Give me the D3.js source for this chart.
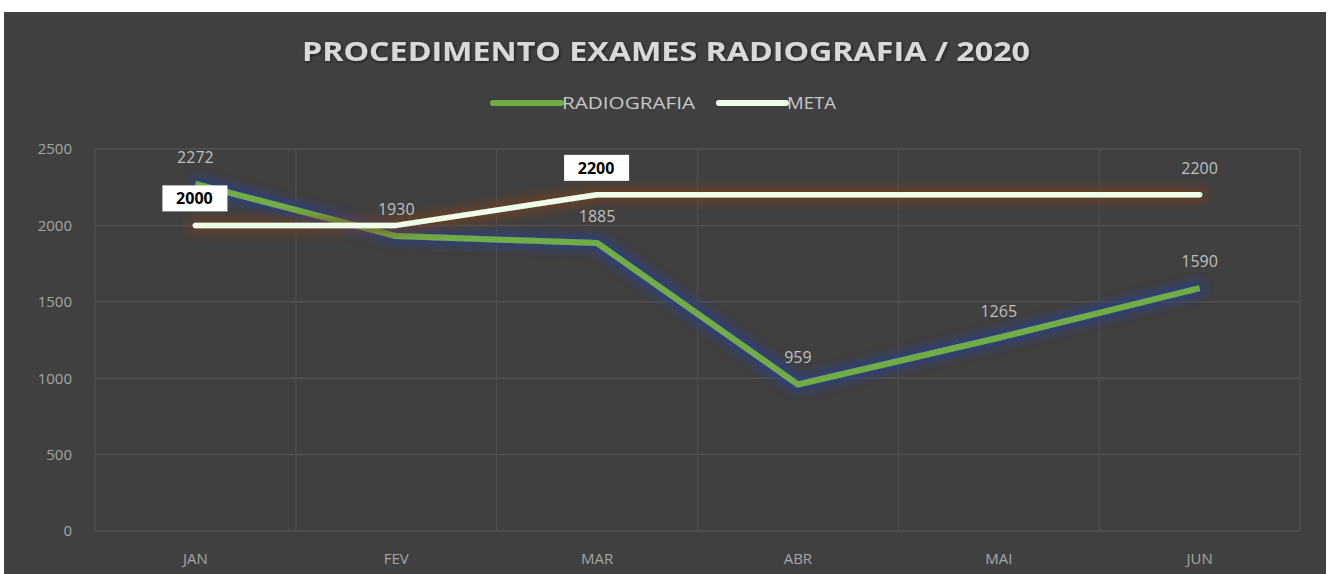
<!DOCTYPE html>
<html>
<head>
<meta charset="utf-8">
<script src="https://cdn.jsdelivr.net/npm/d3@7"></script>
<style>
  body { margin: 0; background: #fff; }
  svg { display: block; }
</style>
</head>
<body>
<svg id="chart"></svg>
<script>
var months = ["JAN", "FEV", "MAR", "ABR", "MAI", "JUN"];
var radiografia = [2272, 1930, 1885, 959, 1265, 1590];
var meta = [2000, 2000, 2200, 2200, 2200, 2200];
var yTicks = [0, 500, 1000, 1500, 2000, 2500];
// which meta points carry a label and whether it sits in a white box
var metaLabels = [
    { i: 0, boxed: true },
    { i: 2, boxed: true },
    { i: 5, boxed: false }
];

var totalWidth = 1331;
var totalHeight = 574;
var margin = { top: 149, right: 31, bottom: 43, left: 95 };
var width = totalWidth - margin.left - margin.right;
var height = totalHeight - margin.top - margin.bottom;

var svg = d3.select("#chart")
    .attr("width", totalWidth)
    .attr("height", totalHeight);

var defs = svg.append("defs");

function glow(id, color, blur, op) {
    var f = defs.append("filter").attr("id", id)
        .attr("x", "-20%").attr("y", "-80%").attr("width", "140%").attr("height", "260%");
    f.append("feMorphology").attr("in", "SourceAlpha").attr("operator", "dilate").attr("radius", 4).attr("result", "d");
    f.append("feGaussianBlur").attr("in", "d").attr("stdDeviation", blur).attr("result", "b");
    f.append("feFlood").attr("flood-color", color).attr("flood-opacity", op);
    f.append("feComposite").attr("in2", "b").attr("operator", "in").attr("result", "g");
    var m = f.append("feMerge");
    m.append("feMergeNode").attr("in", "g");
    m.append("feMergeNode").attr("in", "SourceGraphic");
}
glow("glowBlue", "#2b3f86", 5, 0.85);
glow("glowOrange", "#7a3e1c", 6, 0.7);

var shadow = defs.append("filter").attr("id", "textShadow");
shadow.append("feDropShadow").attr("dx", 1).attr("dy", 1).attr("stdDeviation", 1.5)
    .attr("flood-color", "#000").attr("flood-opacity", 0.6);

// panel
svg.append("rect")
    .attr("x", 4).attr("y", 12)
    .attr("width", 1322).attr("height", totalHeight - 12)
    .attr("fill", "#404040");

svg.append("text")
    .attr("x", 666).attr("y", 61)
    .attr("text-anchor", "middle")
    .attr("font-family", "Open Sans, sans-serif")
    .attr("font-weight", "bold")
    .attr("font-size", 27)
    .attr("fill", "#d9d9d9")
    .attr("textLength", 728)
    .attr("lengthAdjust", "spacingAndGlyphs")
    .attr("filter", "url(#textShadow)")
    .text("PROCEDIMENTO  EXAMES RADIOGRAFIA / 2020");

// legend
var legend = [
    { name: "RADIOGRAFIA", color: "#70ad47", x: 493, w: 68, tw: 133 },
    { name: "META", color: "#f0ffe8", x: 719, w: 67, tw: 49 }
];
legend.forEach(function (d) {
    svg.append("line")
        .attr("x1", d.x).attr("x2", d.x + d.w)
        .attr("y1", 103).attr("y2", 103)
        .attr("stroke", d.color).attr("stroke-width", 6).attr("stroke-linecap", "round");
    svg.append("text")
        .attr("x", d.x + d.w + 1).attr("y", 109)
        .attr("font-family", "Open Sans, sans-serif")
        .attr("font-size", 16)
        .attr("fill", "#c8c8c8")
        .attr("textLength", d.tw)
        .attr("lengthAdjust", "spacingAndGlyphs")
        .text(d.name);
});

var g = svg.append("g")
    .attr("transform", "translate(" + margin.left + "," + margin.top + ")");

var x = d3.scaleBand().domain(months).range([0, width]);
var y = d3.scaleLinear().domain([0, 2500]).range([height, 0]);

function cx(m) { return x(m) + x.bandwidth() / 2; }

// grid
g.append("g")
    .selectAll("line.h")
    .data(yTicks)
    .enter()
    .append("line")
    .attr("x1", 0).attr("x2", width)
    .attr("y1", function (d) { return y(d); })
    .attr("y2", function (d) { return y(d); })
    .attr("stroke", "#525252").attr("stroke-width", 1.5);

g.append("g")
    .selectAll("line.v")
    .data(months.concat(["end"]))
    .enter()
    .append("line")
    .attr("x1", function (d, i) { return i * x.bandwidth(); })
    .attr("x2", function (d, i) { return i * x.bandwidth(); })
    .attr("y1", 0).attr("y2", height)
    .attr("stroke", "#4c4c4c").attr("stroke-width", 1.5);

// axes
var yAxis = g.append("g")
    .attr("transform", "translate(-20,0)")
    .call(d3.axisLeft(y).tickValues(yTicks).tickFormat(d3.format("d")).tickSize(0));
yAxis.select(".domain").remove();
yAxis.selectAll("text")
    .attr("font-family", "Open Sans, sans-serif")
    .attr("font-size", 15)
    .attr("fill", "#a6a6a6");

var xAxis = g.append("g")
    .attr("transform", "translate(0," + height + ")")
    .call(d3.axisBottom(x).tickSize(0).tickPadding(22));
xAxis.select(".domain").remove();
xAxis.selectAll("text")
    .attr("font-family", "Open Sans, sans-serif")
    .attr("font-size", 15)
    .attr("fill", "#a6a6a6");

// lines
var line = d3.line()
    .x(function (d, i) { return cx(months[i]); })
    .y(function (d) { return y(d); });

g.append("path")
    .datum(radiografia)
    .attr("d", line)
    .attr("fill", "none")
    .attr("stroke", "#70ad47")
    .attr("stroke-width", 6)
    .attr("stroke-linejoin", "round")
    .attr("filter", "url(#glowBlue)");

g.append("path")
    .datum(meta)
    .attr("d", line)
    .attr("fill", "none")
    .attr("stroke", "#f0ffe8")
    .attr("stroke-width", 5.5)
    .attr("stroke-linejoin", "round")
    .attr("stroke-linecap", "round")
    .attr("filter", "url(#glowOrange)");

// radiografia labels
g.selectAll(".rlab")
    .data(radiografia)
    .enter()
    .append("text")
    .attr("class", "rlab")
    .attr("x", function (d, i) { return cx(months[i]); })
    .attr("y", function (d) { return y(d) - 21; })
    .attr("text-anchor", "middle")
    .attr("font-family", "Open Sans, sans-serif")
    .attr("font-size", 16)
    .attr("fill", "#bfbfbf")
    .text(function (d) { return d; });

// meta labels
metaLabels.forEach(function (m) {
    var px = cx(months[m.i]);
    var py = y(meta[m.i]);
    if (m.boxed) {
        g.append("rect")
            .attr("x", px - 33).attr("y", py - 40)
            .attr("width", 65).attr("height", 26)
            .attr("fill", "#ffffff");
        g.append("text")
            .attr("x", px - 1).attr("y", py - 21)
            .attr("text-anchor", "middle")
            .attr("font-family", "Open Sans, sans-serif")
            .attr("font-weight", "bold")
            .attr("font-size", 16)
            .attr("fill", "#000")
            .text(meta[m.i]);
    } else {
        g.append("text")
            .attr("x", px).attr("y", py - 21)
            .attr("text-anchor", "middle")
            .attr("font-family", "Open Sans, sans-serif")
            .attr("font-size", 16)
            .attr("fill", "#bfbfbf")
            .text(meta[m.i]);
    }
});
</script>
</body>
</html>
